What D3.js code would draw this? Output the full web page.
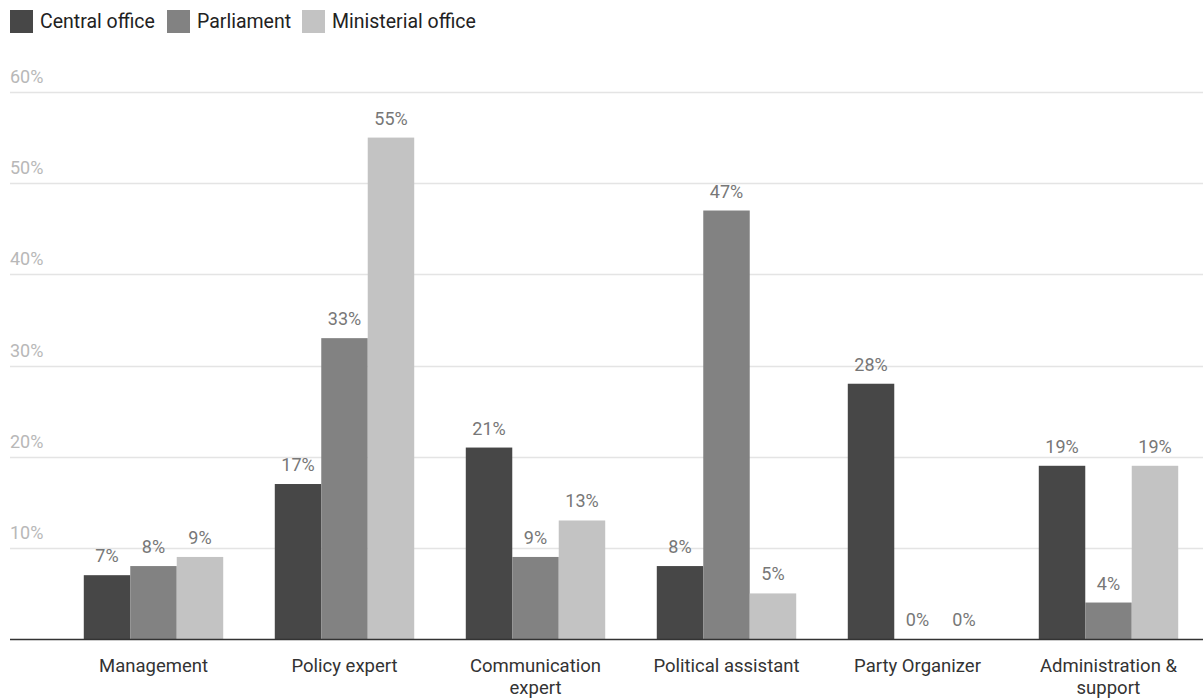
<!DOCTYPE html>
<html><head><meta charset="utf-8">
<script src="https://cdn.jsdelivr.net/npm/d3@7"></script>
<style>body{margin:0;background:#fff;font-family:Roboto,"Noto Sans",sans-serif;}</style>
</head><body>
<svg id="chart" width="1203" height="698"></svg>
<script>
const categories = [["Management"],["Policy expert"],["Communication","expert"],["Political assistant"],["Party Organizer"],["Administration &","support"]];
const seriesNames = ["Central office","Parliament","Ministerial office"];
const central = [7,17,21,8,28,19];
const parliament = [8,33,9,47,0,4];
const ministerial = [9,55,13,5,0,19];
const yTicks = [10,20,30,40,50,60];
const colors = ["#474747","#828282","#c3c3c3"];

const series = [central, parliament, ministerial];
const svg = d3.select("#chart");
const x0 = d3.scaleBand().domain(d3.range(categories.length)).range([58,1204]).paddingInner(0.27).paddingOuter(0.135);
const x1 = d3.scaleBand().domain(d3.range(3)).range([0,x0.bandwidth()]);
const y = d3.scaleLinear().domain([0,60]).range([639,92]);

// gridlines
const g = svg.append("g");
g.selectAll("line.grid").data(yTicks).join("line")
  .attr("x1",10).attr("x2",1203).attr("y1",d=>Math.round(y(d))+0.5).attr("y2",d=>Math.round(y(d))+0.5)
  .attr("stroke","#e4e4e4").attr("stroke-width",1.5);
g.selectAll("text.tick").data(yTicks).join("text")
  .attr("x",10).attr("y",d=>y(d)-9).attr("fill","#b8b8b8").attr("font-size",18)
  .text(d=>d+"%");

// bars
series.forEach((vals,si)=>{
  svg.append("g").selectAll("rect").data(vals).join("rect")
    .attr("x",(d,i)=>x0(i)+x1(si)).attr("width",x1.bandwidth())
    .attr("y",d=>y(d)).attr("height",d=>y(0)-y(d))
    .attr("fill",colors[si]);
  svg.append("g").selectAll("text").data(vals).join("text")
    .attr("x",(d,i)=>x0(i)+x1(si)+x1.bandwidth()/2).attr("y",d=>y(d)-13)
    .attr("text-anchor","middle").attr("font-size",18).attr("fill","#777")
    .text(d=>d+"%");
});

// baseline
svg.append("line").attr("x1",10).attr("x2",1203).attr("y1",y(0)+0.5).attr("y2",y(0)+0.5).attr("stroke","#333").attr("stroke-width",1.5);

// category labels
const cl = svg.append("g").selectAll("text").data(categories).join("text")
  .attr("x",(d,i)=>x0(i)+x0.bandwidth()/2).attr("y",672)
  .attr("text-anchor","middle").attr("font-size",18.5).attr("fill","#333");
cl.each(function(d){
  d3.select(this).selectAll("tspan").data(d).join("tspan")
    .attr("x",d3.select(this).attr("x")).attr("dy",(t,j)=>j===0?0:22).text(t=>t);
});

// legend
const legendX = [10,167,302];
const lg = svg.append("g");
seriesNames.forEach((n,i)=>{
  lg.append("rect").attr("x",legendX[i]).attr("y",10).attr("width",23).attr("height",23).attr("fill",colors[i]);
  lg.append("text").attr("x",legendX[i]+30).attr("y",28).attr("font-size",19.5).attr("fill","#222").text(n);
});
</script>
</body></html>
